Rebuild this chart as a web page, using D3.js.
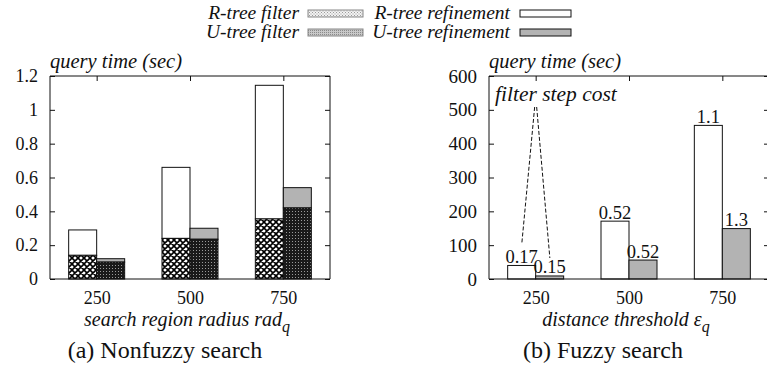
<!DOCTYPE html>
<html>
<head>
<meta charset="utf-8">
<script src="https://cdn.jsdelivr.net/npm/d3@7"></script>
</head>
<body style="margin:0">
<svg id="fig" width="767" height="373"></svg>
<script>
// ---- data ----
const categories = [250, 500, 750];

// (a) nonfuzzy search, seconds (stacked: filter + refinement)
const rtreeFilterA = [0.14, 0.24, 0.355];
const rtreeRefineA = [0.15, 0.42, 0.79];
const utreeFilterA = [0.10, 0.235, 0.42];
const utreeRefineA = [0.02, 0.065, 0.12];

// (b) fuzzy search, seconds (total) and filter-step cost labels
const rtreeTotalB = [40, 171, 454];
const utreeTotalB = [9, 56, 149];
const rtreeFilterLabelB = ["0.17", "0.52", "1.1"];
const utreeFilterLabelB = ["0.15", "0.52", "1.3"];

const yTicksA = [0, 0.2, 0.4, 0.6, 0.8, 1, 1.2];
const yTicksB = [0, 100, 200, 300, 400, 500, 600];

const legendItems = [
  { label: "R-tree filter", fill: "url(#lg-cross)", col: 0, row: 0 },
  { label: "R-tree refinement", fill: "#fff", col: 1, row: 0 },
  { label: "U-tree filter", fill: "url(#lg-dots)", col: 0, row: 1 },
  { label: "U-tree refinement", fill: "#b3b3b3", col: 1, row: 1 }
];

const svg = d3.select("#fig");
const ink = "#111";
const grayFill = "#b3b3b3";

function label(sel, size, italic) {
  sel.attr("font-family", null)
    .style("font-family", "'Liberation Serif'")
    .style("font-size", size + "px")
    .style("fill", ink);
  if (italic) sel.style("font-style", "italic");
  return sel;
}

// ---- fill patterns ----
const defs = svg.append("defs");
const cross = defs.append("pattern").attr("id", "cross")
  .attr("patternUnits", "userSpaceOnUse").attr("width", 6).attr("height", 6);
cross.append("rect").attr("width", 6).attr("height", 6).attr("fill", "#fff");
cross.append("path").attr("d", "M0,0L6,6M6,0L0,6M-1,5L1,7M5,-1L7,1M-1,1L1,-1M5,7L7,5")
  .attr("stroke", "#000").attr("stroke-width", 1.6);

const dots = defs.append("pattern").attr("id", "dots")
  .attr("patternUnits", "userSpaceOnUse").attr("width", 3).attr("height", 3);
dots.append("rect").attr("width", 3).attr("height", 3).attr("fill", "#1a1a1a");
dots.append("rect").attr("x", 1).attr("y", 1).attr("width", 1).attr("height", 1).attr("fill", "#9a9a9a");

const lgCross = defs.append("pattern").attr("id", "lg-cross")
  .attr("patternUnits", "userSpaceOnUse").attr("width", 3).attr("height", 3);
lgCross.append("rect").attr("width", 3).attr("height", 3).attr("fill", "#f2f2f2");
lgCross.append("rect").attr("width", 1).attr("height", 1).attr("fill", "#9a9a9a");
lgCross.append("rect").attr("x", 1.5).attr("y", 1.5).attr("width", 1).attr("height", 1).attr("fill", "#9a9a9a");

const lgDots = defs.append("pattern").attr("id", "lg-dots")
  .attr("patternUnits", "userSpaceOnUse").attr("width", 2).attr("height", 2);
lgDots.append("rect").attr("width", 2).attr("height", 2).attr("fill", "#c8c8c8");
lgDots.append("rect").attr("width", 1).attr("height", 1).attr("fill", "#8a8a8a");

// ---- panel builder ----
const plotTop = 76, plotBottom = 279;
const barW = 75; // bar width in category units

function panel(opts) {
  const g = svg.append("g");
  const x = d3.scaleLinear().domain([125, 875]).range([opts.left, opts.right]);
  const y = d3.scaleLinear().domain(opts.yDomain).range([plotBottom, plotTop]);

  opts.drawBars(g, x, y);

  // frame
  g.append("path")
    .attr("d", `M${opts.left},${plotTop}H${opts.right}V${plotBottom}H${opts.left}Z`)
    .attr("fill", "none").attr("stroke", ink).attr("stroke-width", 1);

  // y axis (left) with inward ticks, mirrored on the right
  const ya = g.append("g").attr("transform", `translate(${opts.left},0)`)
    .call(d3.axisLeft(y).tickValues(opts.yTicks).tickSize(-5).tickPadding(12)
      .tickFormat(d => String(d)));
  ya.attr("font-family", null).attr("font-size", null);
  ya.select(".domain").remove();
  ya.selectAll("line").attr("stroke", ink);
  label(ya.selectAll("text"), opts.yTickSize);
  const yr = g.append("g").attr("transform", `translate(${opts.right},0)`)
    .call(d3.axisRight(y).tickValues(opts.yTicks).tickSize(-5).tickFormat(""));
  yr.select(".domain").remove();
  yr.selectAll("line").attr("stroke", ink);

  // x axis labels and mirrored top ticks
  const xa = g.append("g").attr("transform", `translate(0,${plotBottom})`)
    .call(d3.axisBottom(x).tickValues(categories).tickSize(0).tickPadding(12));
  xa.attr("font-family", null).attr("font-size", null);
  xa.select(".domain").remove();
  label(xa.selectAll("text"), 18);
  const xt = g.append("g").attr("transform", `translate(0,${plotTop})`)
    .call(d3.axisTop(x).tickValues(categories).tickSize(-5).tickFormat(""));
  xt.select(".domain").remove();
  xt.selectAll("line").attr("stroke", ink);

  // y title
  label(g.append("text"), 20.5, true).attr("x", opts.left).attr("y", 68)
    .text("query time (sec)");

  // x title with subscript
  const xt2 = label(g.append("text"), 20, true)
    .attr("x", (opts.left + opts.right) / 2 - 3).attr("y", 326)
    .attr("text-anchor", "middle");
  xt2.append("tspan").text(opts.xTitle);
  xt2.append("tspan").attr("dy", 6).style("font-size", "16px").text("q");

  // caption
  label(g.append("text"), 24).attr("x", opts.captionX).attr("y", 358)
    .attr("text-anchor", "middle").text(opts.caption);
  return { g, x, y };
}

// (a) Nonfuzzy search: stacked bars
panel({
  left: 50, right: 330, yDomain: [0, 1.2], yTicks: yTicksA, yTickSize: 18,
  xTitle: "search region radius rad", caption: "(a) Nonfuzzy search", captionX: 165,
  drawBars(g, x, y) {
    const stacks = [
      { off: -barW, filter: rtreeFilterA, top: rtreeFilterA.map((f, i) => f + rtreeRefineA[i]),
        fFill: "url(#cross)", rFill: "#fff" },
      { off: 0, filter: utreeFilterA, top: utreeFilterA.map((f, i) => f + utreeRefineA[i]),
        fFill: "url(#dots)", rFill: grayFill }
    ];
    stacks.forEach(s => {
      categories.forEach((c, i) => {
        const x0 = x(c + s.off), w = x(c + s.off + barW) - x0;
        g.append("rect").attr("x", x0).attr("y", y(s.top[i]))
          .attr("width", w).attr("height", y(s.filter[i]) - y(s.top[i]))
          .attr("fill", s.rFill).attr("stroke", ink).attr("stroke-width", 1);
        g.append("rect").attr("x", x0).attr("y", y(s.filter[i]))
          .attr("width", w).attr("height", y(0) - y(s.filter[i]))
          .attr("fill", s.fFill).attr("stroke", ink).attr("stroke-width", 1);
      });
    });
  }
});

// (b) Fuzzy search: total bars with filter-step cost labels
const pb = panel({
  left: 489, right: 769, yDomain: [0, 600], yTicks: yTicksB, yTickSize: 19,
  xTitle: "distance threshold  \u03b5", caption: "(b) Fuzzy search", captionX: 603,
  drawBars(g, x, y) {
    const sets = [
      { off: -barW, vals: rtreeTotalB, labels: rtreeFilterLabelB, fill: "#fff" },
      { off: 0, vals: utreeTotalB, labels: utreeFilterLabelB, fill: grayFill }
    ];
    sets.forEach(s => {
      categories.forEach((c, i) => {
        const x0 = x(c + s.off), w = x(c + s.off + barW) - x0;
        g.append("rect").attr("x", x0).attr("y", y(s.vals[i]))
          .attr("width", w).attr("height", y(0) - y(s.vals[i]))
          .attr("fill", s.fill).attr("stroke", ink).attr("stroke-width", 1);
        label(g.append("text"), 18.5).attr("x", x0 + w / 2).attr("y", y(s.vals[i]) - 2.5)
          .attr("text-anchor", "middle").text(s.labels[i]);
      });
    });
  }
});

// annotation pointing at the filter-step cost labels
label(pb.g.append("text"), 21.5, true).attr("x", 495).attr("y", 101)
  .text("filter step cost");
const ax = pb.x(250), ay = 107;
pb.g.append("path")
  .attr("d", `M${ax - 1},${ay}L${pb.x(250 - 37)},243M${ax + 1},${ay}L${pb.x(250 + 38)},258`)
  .attr("fill", "none").attr("stroke", ink).attr("stroke-width", 1)
  .attr("stroke-dasharray", "4,2");

// legend
const lg = svg.append("g");
legendItems.forEach(it => {
  const textEnd = it.col === 0 ? 299 : 510;
  const swX = it.col === 0 ? 308 : 520;
  const swW = it.col === 0 ? 55 : 51;
  const yMid = it.row === 0 ? 13.5 : 32.5;
  label(lg.append("text"), 19.5, true).attr("x", textEnd).attr("y", yMid + 5)
    .attr("text-anchor", "end").text(it.label);
  lg.append("rect").attr("x", swX).attr("y", yMid - 3.5).attr("width", swW).attr("height", 7)
    .attr("fill", it.fill).attr("stroke", it.col === 0 ? "#888" : ink).attr("stroke-width", 1);
});
</script>
</body>
</html>
